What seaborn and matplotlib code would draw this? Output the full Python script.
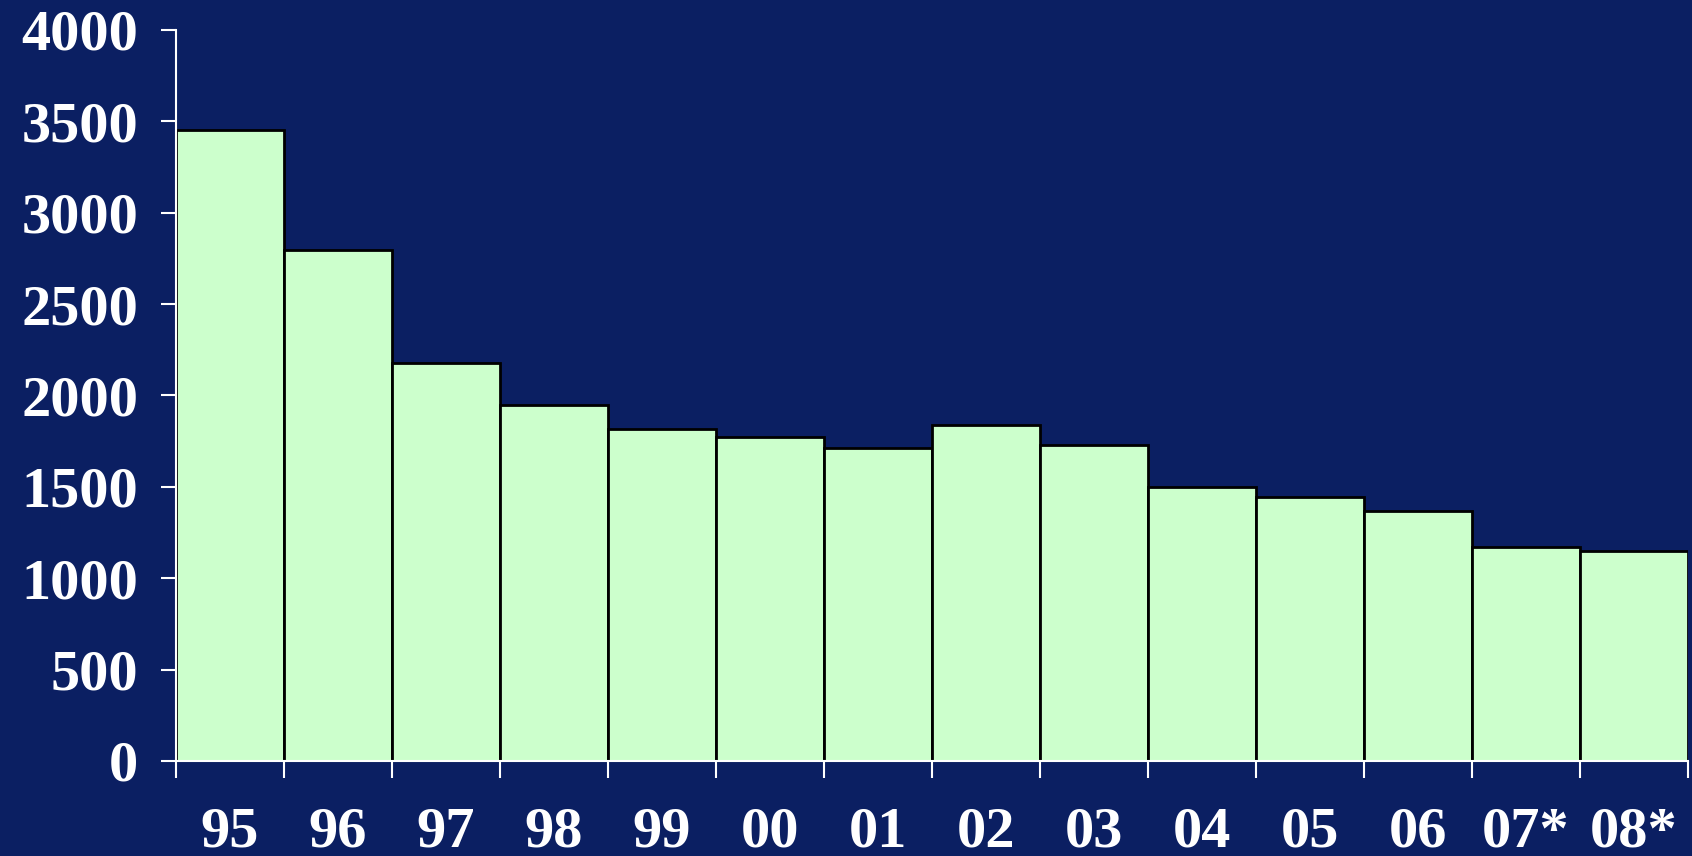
import numpy as np
import pandas as pd
import matplotlib
matplotlib.use("Agg")
import matplotlib.pyplot as plt
import seaborn as sns

# data
years = ["95", "96", "97", "98", "99", "00", "01", "02", "03", "04", "05", "06", "07*", "08*"]
values = [3455, 2795, 2180, 1950, 1814, 1773, 1714, 1838, 1731, 1501, 1443, 1368, 1172, 1148]
y_ticks = [0, 500, 1000, 1500, 2000, 2500, 3000, 3500, 4000]

bg = "#0B1F62"
bar_fill = "#CCFFCC"

sns.set_style("white")
plt.rcParams["font.family"] = ["Liberation Serif", "DejaVu Serif"]
plt.rcParams["font.weight"] = "bold"

df = pd.DataFrame({"year": years, "value": values})

fig = plt.figure(figsize=(16.92, 8.56), dpi=100, facecolor=bg)
ax = fig.add_axes([0.104, 0.111, 0.8936, 0.854])
ax.set_facecolor(bg)

sns.barplot(data=df, x="year", y="value", color=bar_fill, width=1.0,
            edgecolor="black", linewidth=2, saturation=1, ax=ax)

ax.set_xlim(-0.5, len(years) - 0.5)
ax.set_ylim(0, 4000)
ax.set_yticks(y_ticks)
ax.set_yticklabels([str(t) for t in y_ticks])

# ticks at the bar boundaries, labels centred under bars
ax.set_xticks(np.arange(len(years) + 1) - 0.5)
ax.set_xticklabels([])
ax.set_xticks(np.arange(len(years)), minor=True)
ax.set_xticklabels(years, minor=True)

ax.tick_params(axis="x", which="major", bottom=True, length=12, width=1.5,
               color="white", direction="out")
ax.tick_params(axis="x", which="minor", bottom=True, length=0, pad=33,
               labelsize=42, labelcolor="white")
ax.tick_params(axis="y", left=True, length=11, width=1.5, color="white",
               direction="out", pad=16, labelsize=42, labelcolor="white")

for lbl in ax.get_xticklabels(minor=True) + ax.get_yticklabels():
    lbl.set_fontweight("bold")

for side in ["top", "right"]:
    ax.spines[side].set_visible(False)
for side in ["left", "bottom"]:
    ax.spines[side].set_color("white")
    ax.spines[side].set_linewidth(1.5)

ax.set_xlabel("")
ax.set_ylabel("")

fig.savefig("out.png", dpi=100, facecolor=bg)
